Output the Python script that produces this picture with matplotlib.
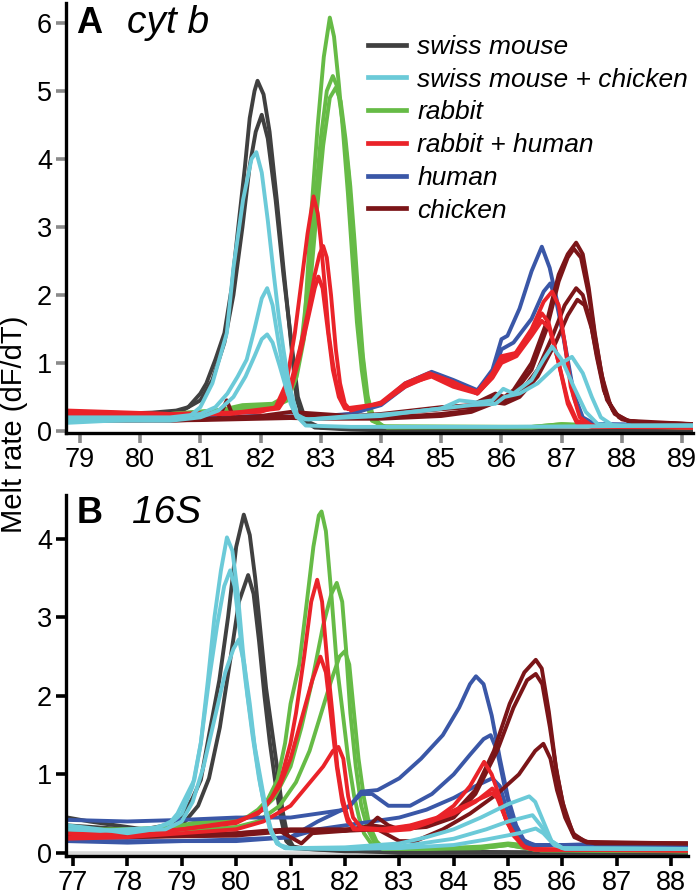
import matplotlib
matplotlib.use("Agg")
import matplotlib.pyplot as plt
from matplotlib.lines import Line2D

plt.rcParams["font.family"] = ["Liberation Sans", "DejaVu Sans"]

# ── colours for the six samples ──
COLORS = {"mouse": "#404040", "mix_mc": "#6bcad8", "rabbit": "#66bb46",
          "mix_rh": "#ea2329", "human": "#3a57a7", "chicken": "#7b1518"}
LABELS = {"mouse": "swiss mouse", "mix_mc": "swiss mouse + chicken",
          "rabbit": "rabbit", "mix_rh": "rabbit + human",
          "human": "human", "chicken": "chicken"}
LEGEND_ORDER = ["mouse", "mix_mc", "rabbit", "mix_rh", "human", "chicken"]
DRAW_ORDER = ["mouse", "rabbit", "human", "chicken", "mix_rh", "mix_mc"]

# ════════════════════════════════════════════════════════════════
#  Panel A – cyt b   (temperature °C, melt rate dF/dT) per curve
# ════════════════════════════════════════════════════════════════
A_MOUSE = [
    [(78.8, .25), (79.5, .25), (80.2, .27), (80.6, .3), (80.8, .35), (81.0, .55), (81.1, .7),
     (81.25, 1.05), (81.4, 1.44), (81.52, 2.1), (81.63, 3.0), (81.74, 3.88), (81.82, 4.6),
     (81.9, 5.0), (81.95, 5.15), (82.05, 4.95), (82.15, 4.4), (82.27, 3.4), (82.38, 2.4),
     (82.49, 1.44), (82.6, .46), (82.71, .16), (82.9, .05), (83.5, .02), (84.5, 0), (89.2, 0)],
    [(78.8, .2), (79.5, .2), (80.3, .22), (80.7, .3), (81.0, .45), (81.2, .75), (81.4, 1.3),
     (81.55, 2.0), (81.7, 3.0), (81.82, 3.9), (81.92, 4.4), (82.02, 4.65), (82.12, 4.3),
     (82.25, 3.4), (82.38, 2.3), (82.5, 1.4), (82.62, .5), (82.75, .15), (83.0, .05),
     (84.0, .02), (89.2, 0)],
]
A_MIX_MC = [
    [(78.8, .12), (79.5, .15), (80.3, .18), (80.8, .2), (81.0, .35), (81.2, .7), (81.44, 1.44),
     (81.55, 2.4), (81.71, 3.4), (81.85, 4.0), (81.93, 4.1), (82.02, 3.8), (82.12, 3.1),
     (82.22, 2.3), (82.3, 1.7), (82.38, 1.2), (82.46, .75), (82.54, .46), (82.62, .2),
     (82.75, .08), (83.5, .06), (86.0, .06), (89.2, .08)],
    [(78.8, .2), (80.0, .2), (80.5, .2), (81.0, .25), (81.25, .35), (81.45, .55), (81.62, .8),
     (81.77, 1.05), (81.9, 1.5), (82.02, 1.95), (82.11, 2.1), (82.2, 1.85), (82.3, 1.3),
     (82.4, .8), (82.5, .4), (82.6, .2), (82.8, .17), (83.5, .22), (84.0, .24), (84.5, .28),
     (85.0, .33), (85.3, .45), (85.6, .42), (85.85, .45), (86.03, .62), (86.2, .55),
     (86.5, .75), (86.7, 1.05), (86.84, 1.24), (87.0, 1.05), (87.2, .65), (87.4, .28),
     (87.6, .1), (88.0, .08), (89.2, .08)],
    [(78.8, .15), (80.5, .15), (81.0, .2), (81.3, .3), (81.55, .5), (81.75, .8), (81.9, 1.1),
     (82.02, 1.35), (82.11, 1.42), (82.2, 1.3), (82.32, .95), (82.45, .55), (82.58, .25),
     (82.75, .17), (83.5, .2), (84.0, .22), (84.5, .28), (85.0, .33), (85.5, .38), (85.9, .4),
     (86.05, .5), (86.3, .55), (86.6, .7), (86.9, .95), (87.17, 1.09), (87.35, .85),
     (87.5, .5), (87.65, .2), (87.85, .08), (89.2, .08)],
]
A_RABBIT = [
    [(78.8, .2), (79.5, .22), (80.5, .25), (81.3, .3), (81.7, .38), (82.2, .4), (82.4, .5),
     (82.55, .7), (82.72, 1.44), (82.85, 3.3), (82.95, 4.5), (83.05, 5.5), (83.15, 6.08),
     (83.22, 5.8), (83.3, 5.1), (83.37, 4.4), (83.45, 3.5), (83.52, 2.6), (83.6, 1.6),
     (83.68, .9), (83.76, .4), (83.85, .15), (84.1, .05), (86.5, .06), (87.0, .1),
     (87.5, .07), (89.2, .05)],
    [(78.8, .22), (80.5, .25), (81.5, .32), (82.2, .38), (82.4, .45), (82.55, .75),
     (82.68, 1.3), (82.78, 2.1), (82.88, 3.1), (83.0, 4.3), (83.1, 5.0), (83.2, 5.22),
     (83.28, 5.05), (83.37, 4.5), (83.46, 3.8), (83.53, 3.0), (83.6, 2.1), (83.67, 1.3),
     (83.75, .6), (83.85, .2), (84.0, .07), (86.5, .06), (87.0, .1), (89.2, .05)],
    [(78.8, .2), (80.5, .22), (81.5, .3), (82.2, .35), (82.45, .45), (82.6, .8),
     (82.72, 1.35), (82.82, 2.1), (82.92, 3.1), (83.04, 4.2), (83.15, 4.9), (83.25, 5.05),
     (83.33, 4.85), (83.41, 4.3), (83.49, 3.6), (83.56, 2.8), (83.63, 1.9), (83.7, 1.1),
     (83.78, .5), (83.88, .18), (84.05, .06), (86.5, .05), (87.0, .08), (89.2, .05)],
]
A_MIX_RH = [
    [(78.8, .3), (79.5, .28), (80.5, .25), (81.5, .27), (82.0, .28), (82.25, .35), (82.43, .7),
     (82.57, 1.44), (82.68, 2.2), (82.78, 2.9), (82.88, 3.45), (82.95, 3.2), (83.0, 2.8),
     (83.07, 2.1), (83.13, 1.44), (83.2, 1.0), (83.26, .7), (83.35, .45), (83.45, .32),
     (84.0, .4), (84.4, .65), (84.84, .82), (85.2, .7), (85.6, .58), (85.85, .85),
     (86.0, 1.1), (86.25, 1.15), (86.5, 1.45), (86.67, 1.73), (86.78, 1.6), (86.95, 1.0),
     (87.1, .45), (87.25, .15), (87.5, .08), (89.2, .05)],
    [(78.8, .28), (80.5, .25), (81.5, .26), (82.3, .35), (82.5, .7), (82.65, 1.2), (82.8, 1.8),
     (82.9, 2.3), (82.98, 2.6), (83.04, 2.72), (83.1, 2.55), (83.17, 2.0), (83.25, 1.2),
     (83.32, .7), (83.4, .4), (83.5, .3), (84.0, .42), (84.4, .7), (84.8, .85), (85.2, .72),
     (85.6, .55), (85.85, .8), (86.0, 1.05), (86.2, 1.1), (86.5, 1.5), (86.7, 1.9),
     (86.84, 2.05), (86.95, 1.85), (87.05, 1.3), (87.15, .65), (87.3, .2), (87.5, .08),
     (89.2, .05)],
    [(78.8, .25), (80.5, .24), (81.5, .25), (82.3, .33), (82.5, .6), (82.65, 1.1), (82.8, 1.7),
     (82.9, 2.1), (82.96, 2.27), (83.03, 2.1), (83.1, 1.6), (83.2, .9), (83.3, .5),
     (83.4, .33), (84.0, .4), (84.4, .68), (84.84, .8), (85.2, .65), (85.6, .55),
     (85.85, .78), (86.0, 1.0), (86.25, 1.1), (86.5, 1.4), (86.67, 1.62), (86.8, 1.5),
     (86.95, 1.0), (87.1, .4), (87.25, .12), (87.5, .06), (89.2, .05)],
]
A_HUMAN = [
    [(78.8, .22), (80.0, .2), (81.0, .2), (82.0, .22), (83.0, .2), (83.5, .25), (84.0, .4),
     (84.4, .7), (84.84, .87), (85.2, .75), (85.6, .6), (85.85, .9), (86.0, 1.35),
     (86.1, 1.4), (86.3, 1.8), (86.5, 2.35), (86.67, 2.71), (86.8, 2.4), (86.95, 1.8),
     (87.1, 1.0), (87.2, .5), (87.32, .2), (87.5, .1), (89.2, .08)],
    [(78.8, .2), (80.0, .18), (81.0, .2), (82.0, .2), (83.0, .22), (83.5, .25), (84.0, .38),
     (84.4, .65), (84.84, .85), (85.2, .72), (85.6, .55), (85.85, .8), (86.0, 1.2),
     (86.2, 1.3), (86.5, 1.65), (86.7, 2.05), (86.81, 2.17), (86.9, 1.95), (87.05, 1.3),
     (87.2, .55), (87.35, .2), (87.55, .1), (89.2, .08)],
]
A_CHICKEN = [
    [(78.8, .2), (79.5, .17), (80.5, .15), (81.3, .18), (81.44, .45), (81.55, .2), (82.0, .22),
     (82.5, .28), (83.0, .25), (83.5, .22), (84.0, .25), (84.5, .3), (85.0, .35), (85.5, .38),
     (85.9, .55), (86.05, .5), (86.2, .6), (86.5, 1.0), (86.75, 1.6), (86.95, 2.3),
     (87.1, 2.6), (87.24, 2.77), (87.35, 2.6), (87.45, 2.1), (87.55, 1.44), (87.65, .9),
     (87.75, .46), (87.9, .25), (88.1, .15), (88.4, .12), (89.2, .1)],
    [(78.8, .18), (80.0, .16), (81.0, .17), (82.0, .2), (83.0, .22), (84.0, .22), (84.5, .28),
     (85.0, .32), (85.5, .35), (85.9, .5), (86.05, .46), (86.2, .55), (86.5, .9),
     (86.75, 1.5), (86.95, 2.2), (87.1, 2.55), (87.2, 2.68), (87.32, 2.55), (87.45, 2.0),
     (87.55, 1.4), (87.67, .8), (87.8, .4), (87.95, .2), (88.2, .12), (89.2, .1)],
    [(78.8, .15), (80.0, .15), (81.0, .16), (82.0, .18), (83.0, .2), (84.0, .2), (84.5, .22),
     (85.0, .25), (85.5, .3), (85.9, .45), (86.05, .42), (86.3, .55), (86.6, .9),
     (86.85, 1.4), (87.05, 1.85), (87.24, 2.1), (87.35, 2.0), (87.48, 1.6), (87.58, 1.1),
     (87.7, .6), (87.85, .3), (88.0, .17), (88.3, .12), (89.2, .1)],
    [(78.8, .17), (80.0, .16), (81.0, .18), (82.0, .2), (83.0, .18), (84.0, .18), (84.5, .2),
     (85.0, .22), (85.5, .28), (85.9, .42), (86.05, .4), (86.3, .5), (86.6, .8), (86.9, 1.3),
     (87.1, 1.7), (87.26, 1.93), (87.38, 1.85), (87.5, 1.5), (87.6, 1.05), (87.72, .55),
     (87.88, .25), (88.1, .15), (89.2, .1)],
]

# ════════════════════════════════════════════════════════════════
#  Panel B – 16S
# ════════════════════════════════════════════════════════════════
B_MOUSE = [
    [(76.9, .45), (77.3, .4), (77.8, .35), (78.3, .3), (78.7, .35), (79.0, .45), (79.2, .7),
     (79.35, .93), (79.5, 1.5), (79.69, 2.2), (79.85, 3.0), (80.0, 3.9), (80.14, 4.31),
     (80.25, 4.05), (80.35, 3.5), (80.45, 2.8), (80.55, 2.1), (80.65, 1.6), (80.75, 1.1),
     (80.85, .55), (80.95, .2), (81.05, .08), (81.3, .05), (82.0, .03), (83.0, 0), (88.3, 0)],
    [(76.9, .35), (78.0, .3), (78.7, .3), (79.0, .35), (79.3, .6), (79.5, .95), (79.7, 1.6),
     (79.9, 2.5), (80.05, 3.2), (80.22, 3.54), (80.32, 3.3), (80.42, 2.7), (80.52, 2.0),
     (80.62, 1.4), (80.72, .9), (80.82, .45), (80.92, .15), (81.05, .06), (82.0, .02),
     (88.3, 0)],
]
B_MIX_MC = [
    [(76.9, .35), (77.5, .3), (78.0, .25), (78.5, .3), (78.8, .4), (78.92, .5), (79.1, .75),
     (79.23, .93), (79.35, 1.4), (79.48, 2.2), (79.6, 3.0), (79.72, 3.6), (79.83, 4.02),
     (79.93, 3.85), (80.03, 3.3), (80.12, 2.6), (80.21, 2.0), (80.33, 1.4), (80.46, .9),
     (80.55, .55), (80.64, .3), (80.75, .12), (80.9, .06), (82.0, .05), (83.0, .06),
     (84.0, .1), (84.6, .17), (85.2, .25), (85.51, .31), (85.65, .25), (85.85, .1),
     (86.05, .05), (88.3, .05)],
    [(76.9, .3), (77.5, .28), (78.0, .3), (78.5, .32), (78.8, .38), (79.0, .5), (79.2, .85),
     (79.35, 1.4), (79.5, 2.2), (79.65, 2.9), (79.78, 3.4), (79.89, 3.6), (79.97, 3.4),
     (80.07, 2.8), (80.17, 2.2), (80.3, 1.5), (80.42, .95), (80.52, .6), (80.62, .3),
     (80.75, .12), (80.9, .06), (82.0, .05), (83.0, .08), (84.0, .18), (84.6, .3),
     (85.0, .4), (85.45, .48), (85.6, .35), (85.8, .15), (86.0, .06), (88.3, .05)],
    [(76.9, .3), (78.0, .28), (78.7, .3), (79.0, .4), (79.2, .65), (79.4, 1.1), (79.6, 1.7),
     (79.8, 2.3), (79.95, 2.6), (80.05, 2.72), (80.15, 2.4), (80.25, 1.9), (80.35, 1.3),
     (80.45, .85), (80.55, .5), (80.65, .25), (80.8, .1), (81.0, .06), (82.0, .07),
     (83.0, .12), (83.5, .2), (84.0, .3), (84.5, .45), (85.0, .62), (85.39, .72),
     (85.5, .65), (85.65, .4), (85.8, .15), (86.0, .06), (88.3, .05)],
]
B_RABBIT = [
    [(76.9, .3), (78.0, .3), (78.8, .32), (79.2, .38), (79.6, .4), (80.0, .42), (80.21, .46),
     (80.4, .55), (80.58, .68), (80.76, .93), (80.9, 1.4), (81.0, 1.9), (81.16, 2.4),
     (81.3, 3.2), (81.42, 3.9), (81.52, 4.3), (81.57, 4.35), (81.65, 4.1), (81.75, 3.3),
     (81.85, 2.4), (81.96, 1.78), (82.06, 1.2), (82.17, .72), (82.26, .45), (82.35, .25),
     (82.5, .1), (82.7, .05), (83.5, .05), (84.5, .08), (85.0, .12), (85.3, .1),
     (85.6, .03), (88.3, .02)],
    [(76.9, .28), (78.0, .3), (79.5, .35), (80.0, .4), (80.4, .5), (80.7, .7), (81.0, 1.1),
     (81.2, 1.6), (81.4, 2.2), (81.6, 2.9), (81.75, 3.3), (81.85, 3.44), (81.95, 3.2),
     (82.02, 2.6), (82.1, 1.78), (82.2, 1.1), (82.3, .6), (82.42, .3), (82.55, .12),
     (82.7, .05), (84.5, .06), (85.0, .1), (85.5, .04), (88.3, .02)],
    [(76.9, .26), (78.0, .28), (79.5, .3), (80.0, .33), (80.4, .4), (80.8, .6), (81.1, .9),
     (81.35, 1.3), (81.55, 1.75), (81.75, 2.2), (81.9, 2.5), (82.0, 2.57), (82.08, 2.4),
     (82.15, 1.9), (82.25, 1.2), (82.35, .7), (82.45, .35), (82.58, .15), (82.72, .05),
     (84.5, .06), (85.0, .1), (85.5, .04), (88.3, .02)],
]
B_MIX_RH = [
    [(76.9, .2), (77.5, .22), (78.0, .25), (78.5, .25), (79.0, .3), (79.5, .35), (80.0, .4),
     (80.4, .5), (80.65, .7), (80.82, .93), (81.0, 1.4), (81.1, 1.78), (81.25, 2.5),
     (81.38, 3.2), (81.49, 3.48), (81.58, 3.2), (81.68, 2.4), (81.77, 1.78), (81.86, 1.1),
     (81.95, .72), (82.05, .45), (82.16, .3), (82.4, .3), (82.8, .28), (83.2, .3),
     (83.6, .4), (84.0, .6), (84.3, .85), (84.56, 1.16), (84.7, 1.0), (84.85, .7),
     (84.97, .4), (85.11, .25), (85.25, .1), (85.4, .05), (88.3, .03)],
    [(76.9, .25), (78.0, .25), (79.0, .3), (80.0, .38), (80.5, .55), (80.8, .85), (81.0, 1.2),
     (81.2, 1.7), (81.4, 2.2), (81.55, 2.5), (81.65, 2.3), (81.75, 1.7), (81.85, 1.1),
     (81.95, .65), (82.05, .4), (82.2, .3), (82.6, .3), (83.0, .32), (83.5, .38),
     (84.0, .5), (84.4, .65), (84.71, .82), (84.8, .75), (84.95, .45), (85.1, .25),
     (85.3, .08), (85.5, .04), (88.3, .03)],
    [(76.9, .18), (78.0, .2), (79.0, .25), (80.0, .3), (80.5, .4), (81.0, .6), (81.3, .85),
     (81.6, 1.1), (81.78, 1.3), (81.88, 1.35), (81.97, 1.2), (82.06, .72), (82.15, .45),
     (82.3, .32), (82.7, .3), (83.2, .35), (83.7, .45), (84.2, .6), (84.71, .76),
     (84.8, .7), (84.95, .45), (85.1, .22), (85.3, .07), (85.5, .04), (88.3, .03)],
]
B_HUMAN = [
    [(76.9, .15), (78.0, .15), (79.0, .15), (80.0, .17), (81.0, .2), (81.5, .4), (81.8, .5),
     (82.1, .6), (82.3, .78), (82.6, .8), (83.0, .95), (83.4, 1.2), (83.8, 1.5),
     (84.1, 1.85), (84.3, 2.15), (84.41, 2.25), (84.55, 2.15), (84.7, 1.75), (84.85, 1.2),
     (85.0, .7), (85.15, .35), (85.3, .15), (85.5, .1), (86.0, .1), (87.0, .12),
     (88.3, .1)],
    [(76.9, .42), (78.0, .4), (79.0, .42), (80.0, .45), (81.0, .45), (81.5, .5), (82.0, .55),
     (82.3, .75), (82.5, .75), (82.8, .6), (83.2, .6), (83.6, .75), (84.0, 1.0),
     (84.3, 1.25), (84.55, 1.45), (84.68, 1.5), (84.8, 1.3), (84.95, .8), (85.1, .4),
     (85.25, .18), (85.45, .1), (88.3, .1)],
    [(76.9, .15), (78.0, .13), (79.0, .15), (80.0, .15), (81.0, .2), (81.5, .3), (82.0, .35),
     (82.5, .4), (83.0, .45), (83.5, .55), (84.0, .7), (84.4, .85), (84.71, .95),
     (84.85, .85), (85.0, .5), (85.15, .22), (85.35, .1), (88.3, .1)],
]
B_CHICKEN = [
    [(76.9, .25), (78.0, .22), (79.0, .22), (80.0, .25), (80.5, .28), (81.0, .3), (81.5, .3),
     (82.0, .3), (82.4, .32), (82.6, .45), (82.8, .35), (83.0, .3), (83.5, .35), (84.0, .5),
     (84.4, .8), (84.74, 1.3), (85.03, 1.9), (85.3, 2.3), (85.51, 2.46), (85.62, 2.35),
     (85.75, 1.8), (85.88, 1.1), (86.0, .65), (86.19, .25), (86.4, .15), (86.6, .12),
     (88.3, .12)],
    [(76.9, .22), (78.0, .2), (80.0, .22), (81.0, .28), (82.0, .28), (82.5, .35), (83.0, .3),
     (83.5, .33), (84.0, .45), (84.4, .75), (84.8, 1.3), (85.1, 1.85), (85.35, 2.2),
     (85.51, 2.28), (85.63, 2.15), (85.77, 1.6), (85.9, 1.0), (86.05, .5), (86.22, .22),
     (86.45, .14), (88.3, .12)],
    [(76.9, .2), (78.0, .2), (79.0, .22), (80.0, .25), (80.8, .28), (81.0, .2), (81.2, .12),
     (81.4, .25), (82.0, .28), (82.6, .3), (83.0, .15), (83.3, .15), (83.8, .3), (84.3, .5),
     (84.8, .75), (85.2, 1.0), (85.5, 1.3), (85.65, 1.39), (85.78, 1.2), (85.9, .8),
     (86.05, .45), (86.22, .2), (86.45, .13), (88.3, .12)],
]
# no-template trace lying on the baseline of panel B
B_NTC = [(76.9, -.01), (88.3, -.01)]

A_TICKS = list(range(79, 90))
B_TICKS = list(range(77, 89))
A_YTICKS = [0, 1, 2, 3, 4, 5, 6]
B_YTICKS = [0, 1, 2, 3, 4]

PANEL_A = {"mouse": A_MOUSE, "mix_mc": A_MIX_MC, "rabbit": A_RABBIT,
           "mix_rh": A_MIX_RH, "human": A_HUMAN, "chicken": A_CHICKEN}
PANEL_B = {"mouse": B_MOUSE, "mix_mc": B_MIX_MC, "rabbit": B_RABBIT,
           "mix_rh": B_MIX_RH, "human": B_HUMAN, "chicken": B_CHICKEN}

W, H = 700, 896
fig = plt.figure(figsize=(W / 100, H / 100), dpi=100)


def px_axes(left, top, right, bottom):
    # axes placed with pixel edges of the figure
    return fig.add_axes([left / W, 1 - bottom / H, (right - left) / W, (bottom - top) / H])


def draw_curves(ax, panel):
    for key in DRAW_ORDER:
        for curve in panel[key]:
            xs = [p[0] for p in curve]
            ys = [p[1] for p in curve]
            ax.plot(xs, ys, color=COLORS[key], lw=2.8, solid_joinstyle="round",
                    solid_capstyle="round")


def style_axes(ax, tick_color):
    for s in ("top", "right"):
        ax.spines[s].set_visible(False)
    for s in ("left", "bottom"):
        ax.spines[s].set_linewidth(2.4)
        ax.spines[s].set_color("black")
    ax.tick_params(axis="both", direction="out", length=7, width=2.6, color=tick_color,
                   labelsize=19.5, pad=3)


# ── Panel A ──
axA = px_axes(66, 2.6, 693, 433)
draw_curves(axA, PANEL_A)
axA.set_xlim(78.77, 89.18)
axA.set_ylim(-0.03, 6.3)
axA.set_xticks(A_TICKS)
axA.set_yticks(A_YTICKS)
style_axes(axA, "#8a8a8a")

handles = [Line2D([0], [0], color=COLORS[k], lw=3.4) for k in LEGEND_ORDER]
axA.legend(handles, [LABELS[k] for k in LEGEND_ORDER], loc="upper left",
           bbox_to_anchor=(368 / W, 1 - 35 / H), bbox_transform=fig.transFigure,
           frameon=False, borderpad=0, borderaxespad=0, handlelength=1.45,
           handletextpad=0.42, labelspacing=0.33,
           prop={"style": "italic", "size": 19})

# ── Panel B ──
axB = px_axes(66, 495, 688, 856)
axB.plot([p[0] for p in B_NTC], [p[1] for p in B_NTC], color="#d8d8d8", lw=4, zorder=1)
draw_curves(axB, PANEL_B)
axB.set_xlim(76.87, 88.31)
axB.set_ylim(-0.04, 4.56)
axB.set_xticks(B_TICKS)
axB.set_yticks(B_YTICKS)
style_axes(axB, "black")

# ── panel titles ──
fig.text(76 / W, 1 - 33 / H, "A", fontsize=26, fontweight="bold", va="baseline")
fig.text(127 / W, 1 - 33 / H, "cyt b", fontsize=28, style="italic", va="baseline")
fig.text(77 / W, 1 - 523 / H, "B", fontsize=26, fontweight="bold", va="baseline")
fig.text(132 / W, 1 - 523 / H, "16S", fontsize=28, style="italic", va="baseline")

fig.text(14 / W, 1 - 424 / H, "Melt rate (dF/dT)", fontsize=21, rotation=90,
         ha="center", va="center")

fig.savefig("out.png", dpi=100)
